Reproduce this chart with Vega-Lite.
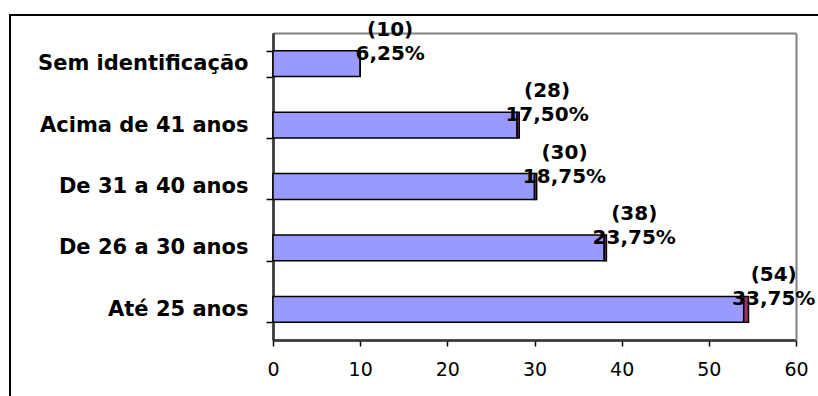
{
  "$schema": "https://vega.github.io/schema/vega-lite/v6.json",
  "width": 808,
  "height": 381,
  "autosize": "none",
  "padding": {"left": 10, "top": 15, "right": 0, "bottom": 0},
  "background": "white",
  "config": {
    "view": {"stroke": "black", "strokeWidth": 2, "strokeDash": [808, 1189, 381], "fill": "white"},
    "font": "DejaVu Sans",
    "axis": {"grid": false, "title": null}
  },
  "datasets": {
    "idades": [
      {"faixa": "Sem identificação", "serie": "total", "valor": 10, "pct": 6.25},
      {"faixa": "Sem identificação", "serie": "resto", "valor": 0},
      {"faixa": "Acima de 41 anos", "serie": "total", "valor": 28, "pct": 17.5},
      {"faixa": "Acima de 41 anos", "serie": "resto", "valor": 0.25},
      {"faixa": "De 31 a 40 anos", "serie": "total", "valor": 30, "pct": 18.75},
      {"faixa": "De 31 a 40 anos", "serie": "resto", "valor": 0.25},
      {"faixa": "De 26 a 30 anos", "serie": "total", "valor": 38, "pct": 23.75},
      {"faixa": "De 26 a 30 anos", "serie": "resto", "valor": 0.25},
      {"faixa": "Até 25 anos", "serie": "total", "valor": 54, "pct": 33.75},
      {"faixa": "Até 25 anos", "serie": "resto", "valor": 0.55}
    ]
  },
  "data": {"name": "idades"},
  "resolve": {"axis": {"x": "independent", "y": "independent"}},
  "layer": [
    {
      "mark": {"type": "bar", "stroke": "black", "strokeWidth": 1.5},
      "encoding": {
        "y": {
          "field": "faixa",
          "type": "nominal",
          "sort": null,
          "scale": {"range": [18, 325], "paddingInner": 0.58, "paddingOuter": 0.29},
          "axis": {
            "orient": "left",
            "offset": -263,
            "domain": true,
            "domainColor": "#222222",
            "domainWidth": 2,
            "tickColor": "black",
            "tickWidth": 1.5,
            "tickSize": 7,
            "tickBand": "extent",
            "labelFont": "DejaVu Sans",
            "labelFontWeight": "bold",
            "labelFontSize": 21,
            "labelColor": "black",
            "labelPadding": 18,
            "labelLimit": 400
          }
        },
        "x": {
          "field": "valor",
          "type": "quantitative",
          "stack": "zero",
          "scale": {"domain": [0, 60], "range": [263, 786], "nice": false},
          "axis": {
            "orient": "bottom",
            "offset": -56,
            "values": [0, 10, 20, 30, 40, 50, 60],
            "domain": true,
            "domainColor": "#222222",
            "domainWidth": 2,
            "tickColor": "black",
            "tickWidth": 1.5,
            "tickSize": 6,
            "labelFont": "DejaVu Sans",
            "labelFontSize": 19,
            "labelColor": "black",
            "labelPadding": 14,
            "labelFlush": false
          }
        },
        "color": {
          "field": "serie",
          "type": "nominal",
          "scale": {"domain": ["total", "resto"], "range": ["#9999FF", "#993366"]},
          "legend": null
        },
        "order": {"field": "serie", "sort": "descending"}
      }
    },
    {
      "transform": [
        {"filter": "datum.serie === 'total'"},
        {"calculate": "['(' + datum.valor + ')', replace(format(datum.pct, '.2f'), '.', ',') + '%']", "as": "rotulo"}
      ],
      "mark": {
        "type": "text",
        "align": "center",
        "baseline": "middle",
        "dx": 30,
        "dy": -34,
        "font": "DejaVu Sans",
        "fontWeight": "bold",
        "fontSize": 20,
        "lineHeight": 24,
        "color": "black"
      },
      "encoding": {
        "y": {
          "field": "faixa",
          "type": "nominal",
          "sort": null,
          "axis": {
            "orient": "right",
            "offset": -22,
            "domainColor": "#808080",
            "domainWidth": 2,
            "ticks": false,
            "labels": false
          }
        },
        "x": {
          "field": "valor",
          "type": "quantitative",
          "axis": {
            "orient": "top",
            "offset": -18,
            "domainColor": "#808080",
            "domainWidth": 2,
            "ticks": false,
            "labels": false
          }
        },
        "text": {"field": "rotulo", "type": "nominal"}
      }
    },
    {
      "transform": [{"filter": "datum.serie === 'total'"}],
      "mark": {"type": "text", "text": ""},
      "encoding": {
        "y": {
          "field": "faixa",
          "type": "nominal",
          "sort": null,
          "axis": {
            "orient": "right",
            "offset": -545,
            "domainColor": "#3a3a3a",
            "domainWidth": 2.5,
            "ticks": false,
            "labels": false
          }
        },
        "x": {
          "field": "valor",
          "type": "quantitative",
          "axis": {
            "orient": "top",
            "offset": -325,
            "domainColor": "#3a3a3a",
            "domainWidth": 2.5,
            "ticks": false,
            "labels": false
          }
        }
      }
    }
  ]
}
